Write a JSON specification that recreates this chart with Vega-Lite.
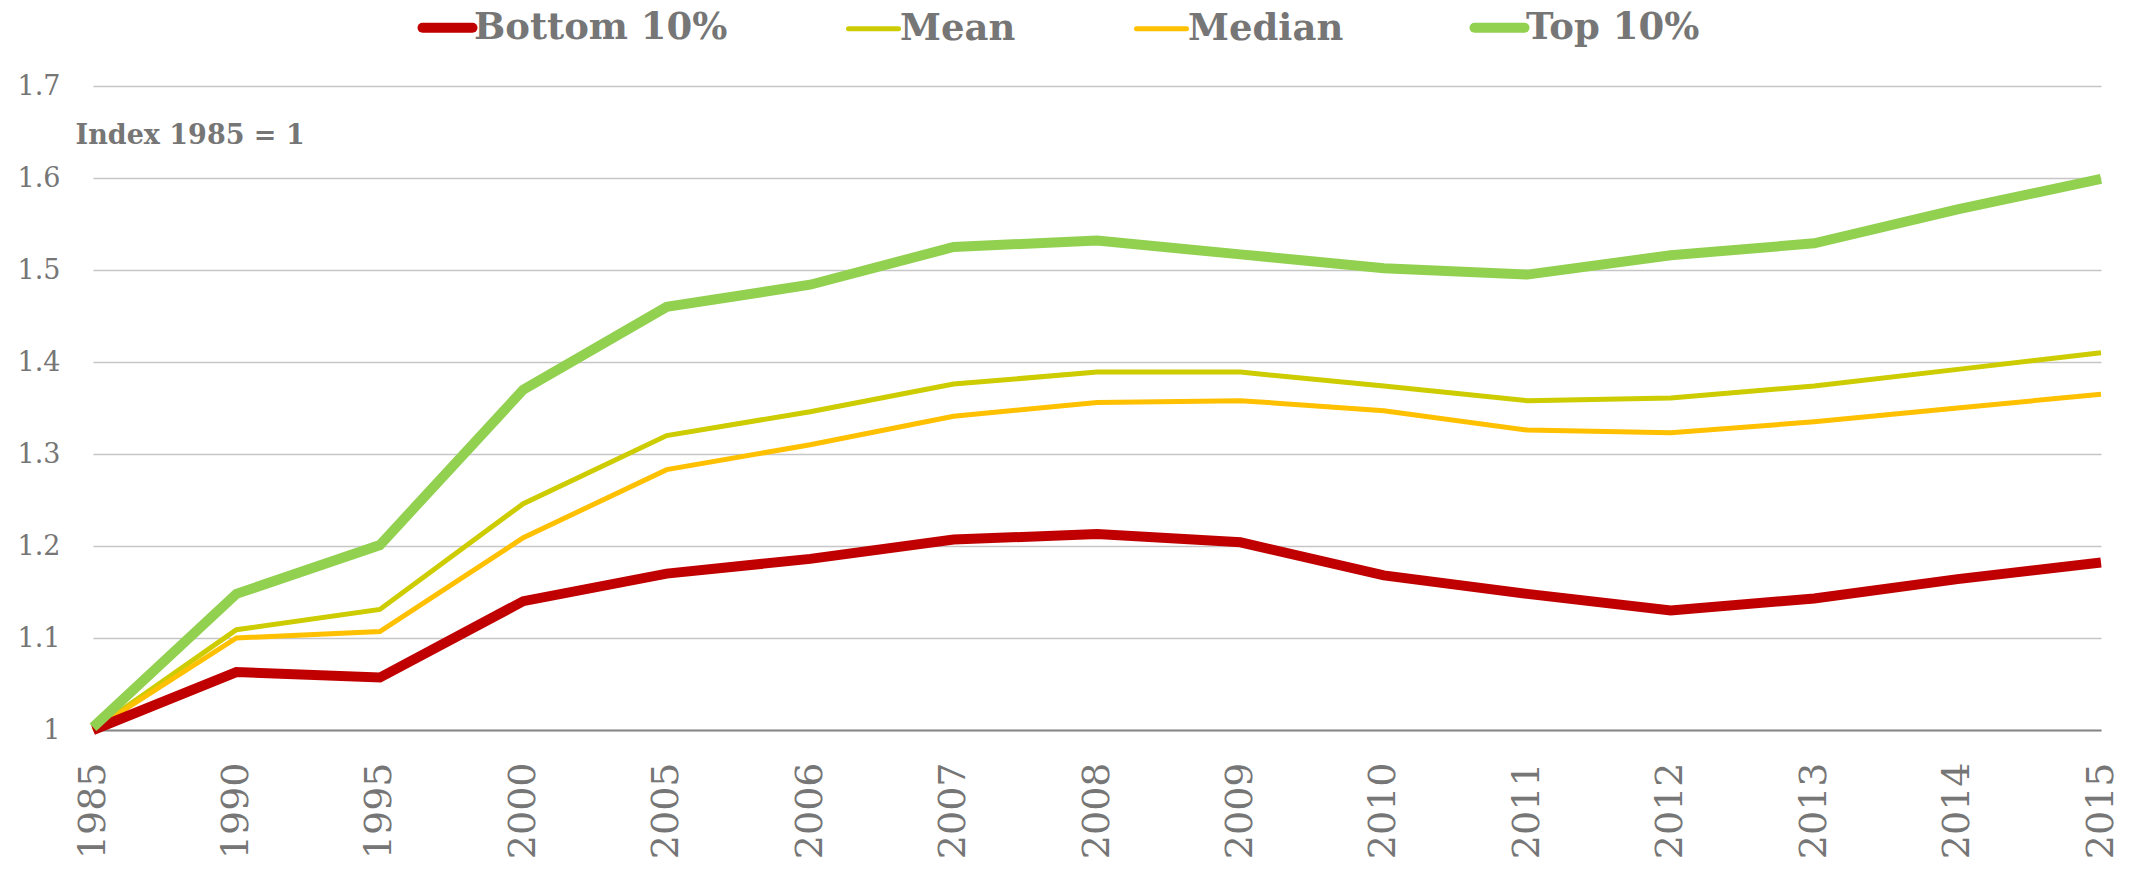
{
  "$schema": "https://vega.github.io/schema/vega-lite/v6.json",
  "autosize": {"type": "none"},
  "width": 2008,
  "height": 644,
  "padding": {"left": 93, "top": 86, "right": 44, "bottom": 144},
  "background": "white",
  "config": {
    "view": {"stroke": null},
    "font": "DejaVu Serif"
  },
  "data": {
    "values": [
      {"year": "1985", "series": "Bottom 10%", "value": 1.0},
      {"year": "1990", "series": "Bottom 10%", "value": 1.063},
      {"year": "1995", "series": "Bottom 10%", "value": 1.057},
      {"year": "2000", "series": "Bottom 10%", "value": 1.140},
      {"year": "2005", "series": "Bottom 10%", "value": 1.170},
      {"year": "2006", "series": "Bottom 10%", "value": 1.186},
      {"year": "2007", "series": "Bottom 10%", "value": 1.207},
      {"year": "2008", "series": "Bottom 10%", "value": 1.213},
      {"year": "2009", "series": "Bottom 10%", "value": 1.204},
      {"year": "2010", "series": "Bottom 10%", "value": 1.168},
      {"year": "2011", "series": "Bottom 10%", "value": 1.148},
      {"year": "2012", "series": "Bottom 10%", "value": 1.130},
      {"year": "2013", "series": "Bottom 10%", "value": 1.143},
      {"year": "2014", "series": "Bottom 10%", "value": 1.164},
      {"year": "2015", "series": "Bottom 10%", "value": 1.182},
      {"year": "1985", "series": "Mean", "value": 1.0},
      {"year": "1990", "series": "Mean", "value": 1.109},
      {"year": "1995", "series": "Mean", "value": 1.131},
      {"year": "2000", "series": "Mean", "value": 1.246},
      {"year": "2005", "series": "Mean", "value": 1.320},
      {"year": "2006", "series": "Mean", "value": 1.346},
      {"year": "2007", "series": "Mean", "value": 1.376},
      {"year": "2008", "series": "Mean", "value": 1.389},
      {"year": "2009", "series": "Mean", "value": 1.389},
      {"year": "2010", "series": "Mean", "value": 1.374},
      {"year": "2011", "series": "Mean", "value": 1.358},
      {"year": "2012", "series": "Mean", "value": 1.361},
      {"year": "2013", "series": "Mean", "value": 1.374},
      {"year": "2014", "series": "Mean", "value": 1.392},
      {"year": "2015", "series": "Mean", "value": 1.410},
      {"year": "1985", "series": "Median", "value": 1.0},
      {"year": "1990", "series": "Median", "value": 1.100},
      {"year": "1995", "series": "Median", "value": 1.107},
      {"year": "2000", "series": "Median", "value": 1.209},
      {"year": "2005", "series": "Median", "value": 1.283},
      {"year": "2006", "series": "Median", "value": 1.310},
      {"year": "2007", "series": "Median", "value": 1.341},
      {"year": "2008", "series": "Median", "value": 1.356},
      {"year": "2009", "series": "Median", "value": 1.358},
      {"year": "2010", "series": "Median", "value": 1.347},
      {"year": "2011", "series": "Median", "value": 1.326},
      {"year": "2012", "series": "Median", "value": 1.323},
      {"year": "2013", "series": "Median", "value": 1.335},
      {"year": "2014", "series": "Median", "value": 1.350},
      {"year": "2015", "series": "Median", "value": 1.365},
      {"year": "1985", "series": "Top 10%", "value": 1.003},
      {"year": "1990", "series": "Top 10%", "value": 1.148},
      {"year": "1995", "series": "Top 10%", "value": 1.201},
      {"year": "2000", "series": "Top 10%", "value": 1.370},
      {"year": "2005", "series": "Top 10%", "value": 1.460},
      {"year": "2006", "series": "Top 10%", "value": 1.484},
      {"year": "2007", "series": "Top 10%", "value": 1.525},
      {"year": "2008", "series": "Top 10%", "value": 1.532},
      {"year": "2009", "series": "Top 10%", "value": 1.517},
      {"year": "2010", "series": "Top 10%", "value": 1.502},
      {"year": "2011", "series": "Top 10%", "value": 1.495},
      {"year": "2012", "series": "Top 10%", "value": 1.516},
      {"year": "2013", "series": "Top 10%", "value": 1.529},
      {"year": "2014", "series": "Top 10%", "value": 1.566},
      {"year": "2015", "series": "Top 10%", "value": 1.599}
    ]
  },
  "encoding": {
    "x": {
      "field": "year",
      "type": "ordinal",
      "scale": {"type": "point", "padding": 0},
      "axis": {
        "title": null,
        "labelAngle": -90,
        "labelAlign": "right",
        "labelBaseline": "middle",
        "labelFont": "DejaVu Serif",
        "labelFontSize": 38,
        "labelColor": "#767676",
        "labelPadding": 32,
        "ticks": false,
        "tickSize": 0,
        "domain": true,
        "domainColor": "#878787",
        "domainWidth": 2,
        "grid": false
      }
    },
    "y": {
      "field": "value",
      "type": "quantitative",
      "scale": {"domain": [1, 1.7], "zero": false, "nice": false},
      "axis": {
        "title": "Index 1985 = 1",
        "titleAngle": 0,
        "titleX": -18,
        "titleY": 49,
        "titleAlign": "left",
        "titleBaseline": "middle",
        "titleFont": "DejaVu Serif",
        "titleFontWeight": "bold",
        "titleFontSize": 27,
        "titleColor": "#767676",
        "values": [1, 1.1, 1.2, 1.3, 1.4, 1.5, 1.6, 1.7],
        "format": ".1~f",
        "labelFont": "DejaVu Serif",
        "labelFontSize": 27,
        "labelColor": "#767676",
        "labelPadding": 33,
        "ticks": false,
        "tickSize": 0,
        "domain": false,
        "grid": true,
        "gridColor": "#c6c6c6",
        "gridWidth": 1.5
      }
    },
    "color": {
      "field": "series",
      "type": "nominal",
      "scale": {
        "domain": ["Bottom 10%", "Mean", "Median", "Top 10%"],
        "range": ["#C00000", "#CCCC00", "#FFC000", "#92D050"]
      },
      "legend": {
        "title": null,
        "orient": "none",
        "direction": "horizontal",
        "legendX": 336,
        "legendY": -77,
        "padding": 0,
        "symbolType": "stroke",
        "symbolSize": 2500,
        "symbolStrokeWidth": 10,
        "labelFont": "DejaVu Serif",
        "labelFontWeight": "bold",
        "labelFontSize": 37,
        "labelColor": "#767676",
        "labelLimit": 500,
        "labelOffset": 8,
        "columnPadding": 110,
        "encode": {
          "symbols": {
            "update": {
              "strokeCap": {"value": "round"},
              "strokeWidth": {"signal": "datum.value === 'Mean' || datum.value === 'Median' ? 5 : 10"}
            }
          }
        }
      }
    }
  },
  "layer": [
    {
      "transform": [{"filter": "datum.series === 'Mean' || datum.series === 'Median'"}],
      "mark": {"type": "line", "strokeWidth": 5}
    },
    {
      "transform": [{"filter": "datum.series === 'Bottom 10%' || datum.series === 'Top 10%'"}],
      "mark": {"type": "line", "strokeWidth": 10}
    }
  ]
}
